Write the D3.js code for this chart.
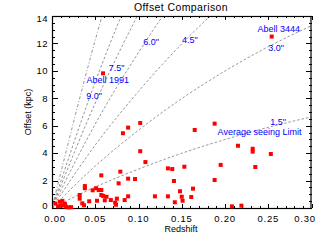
<!DOCTYPE html>
<html>
<head>
<meta charset="utf-8">
<script src="https://cdnjs.cloudflare.com/ajax/libs/d3/7.8.5/d3.min.js"></script>
<style>
	html, body { margin: 0; padding: 0; background: #fff; }
	svg { display: block; font-family: "Liberation Sans", Arial, Helvetica, sans-serif; }
</style>
</head>
<body>
<svg id="chart" width="327" height="241"></svg>
<script>
// cluster sample: redshift vs offset (kpc)
var redshift = [
	0.004, 0.007, 0.009, 0.010, 0.012, 0.013, 0.015, 0.016, 0.019, 0.022,
	0.102, 0.088, 0.082, 0.102, 0.108, 0.079, 0.057, 0.088, 0.096, 0.077,
	0.038, 0.038, 0.047, 0.051, 0.054, 0.057, 0.032, 0.032, 0.043, 0.052,
	0.057, 0.059, 0.061, 0.063, 0.068, 0.073, 0.074, 0.075, 0.084, 0.088,
	0.119, 0.134, 0.148, 0.150, 0.142, 0.151, 0.035, 0.037, 0.134, 0.139,
	0.153, 0.141, 0.163, 0.161, 0.165, 0.188, 0.215, 0.232, 0.232, 0.253,
	0.195, 0.235, 0.188, 0.208, 0.219
];
var offsetKpc = [
	0.32, 0.12, 0.46, 0.16, 0.52, 0.20, 0.30, 0.10, 0.05, 0.06,
	6.20, 5.86, 5.45, 4.14, 3.35, 2.65, 2.38, 2.14, 2.11, 1.80,
	1.60, 1.44, 1.29, 1.44, 1.31, 1.31, 0.95, 0.68, 0.49, 0.53,
	0.95, 0.88, 0.56, 0.82, 0.58, 0.39, 0.24, 0.68, 0.58, 0.85,
	0.85, 0.85, 1.22, 0.82, 0.42, 0.53, 0.34, 0.20, 2.89, 2.84,
	3.01, 1.97, 1.41, 0.80, 5.69, 6.15, 4.54, 4.32, 4.11, 3.94,
	3.14, 2.99, 2.04, 0.12, 0.17
];

// named clusters
var namedClusters = ['Abell 1991', 'Abell 3444'];
var namedRedshift = [0.059, 0.254];
var namedOffset = [9.82, 12.50];
var namedLabelZ = [0.0644, 0.2621];
var namedLabelOffset = [9.33, 13.07];

// constant angle lines: kpc per arcsec along redshift
var gridRedshift = [0, 0.05, 0.10, 0.15, 0.20, 0.25, 0.30];
var kpcPerArcsec = [0, 1.02, 1.89, 2.66, 3.33, 3.92, 4.43];
var angleArcsec = [1.5, 3.0, 4.5, 6.0, 7.5, 9.0, 12.0];
var angleLabels = ['1.5"', '3.0"', '4.5"', '6.0"', '7.5"', '9.0"', ''];
var angleLabelZ = [0.2613, 0.2590, 0.1595, 0.1145, 0.0746, 0.0486, 0];
var angleLabelOffset = [6.32, 11.67, 12.25, 12.10, 10.21, 8.17, 0];
var seeingText = 'Average seeing Limit';
var seeingTextZ = 0.2399;
var seeingTextOffset = 5.55;

// axes
var xTicks = [0, 0.05, 0.10, 0.15, 0.20, 0.25, 0.30];
var yTicks = [0, 2, 4, 6, 8, 10, 12, 14];

var svg = d3.select('#chart');
var plotLeft = 52, plotRight = 311.5, plotTop = 16, plotBottom = 208;

var x = d3.scaleLinear().domain([0, 0.30]).range([plotLeft, plotRight]);
var y = d3.scaleLinear().domain([0, 14]).range([plotBottom, plotTop]);

svg.append('defs').append('clipPath').attr('id', 'plotclip')
	.append('rect')
	.attr('x', plotLeft).attr('y', plotTop)
	.attr('width', plotRight - plotLeft).attr('height', plotBottom - plotTop);

// angle lines
var line = d3.line()
	.x(function(d) { return x(d[0]); })
	.y(function(d) { return y(d[1]); })
	.curve(d3.curveMonotoneX);

var lineLayer = svg.append('g').attr('clip-path', 'url(#plotclip)');
angleArcsec.forEach(function(a, k) {
	var pts = gridRedshift.map(function(z, i) {
		return [z, a * kpcPerArcsec[i]];
	});
	lineLayer.append('path')
		.attr('d', line(pts))
		.attr('fill', 'none')
		.attr('stroke', '#7a7a7a')
		.attr('stroke-width', 0.8)
		.attr('stroke-dasharray', a === 12.0 ? '3,2,1,2' : '2.5,2');
});

// ticks, IDL style (inside, on all four sides)
function minorRange(lo, hi, step) {
	return d3.range(Math.round((hi - lo) / step) + 1).map(function(i) { return lo + i * step; });
}
var xMinor = minorRange(0, 0.30, 0.01);
var yMinor = minorRange(0, 14, 0.5);

var tickLayer = svg.append('g')
	.attr('stroke', '#000').attr('stroke-width', 1).attr('shape-rendering', 'crispEdges');

xMinor.forEach(function(v, i) {
	var len = (i % 5 === 0) ? 4 : 2;
	var px = Math.round(x(v)) + 0.5;
	tickLayer.append('line').attr('x1', px).attr('x2', px).attr('y1', plotBottom).attr('y2', plotBottom - len);
	tickLayer.append('line').attr('x1', px).attr('x2', px).attr('y1', plotTop).attr('y2', plotTop + len);
});
yMinor.forEach(function(v, i) {
	var len = (i % 4 === 0) ? 5.5 : 2.8;
	var py = Math.round(y(v)) + 0.5;
	tickLayer.append('line').attr('x1', plotLeft).attr('x2', plotLeft + len).attr('y1', py).attr('y2', py);
	tickLayer.append('line').attr('x1', plotRight).attr('x2', plotRight - len).attr('y1', py).attr('y2', py);
});

// frame
svg.append('rect')
	.attr('x', plotLeft + 0.5).attr('y', plotTop + 0.5)
	.attr('width', plotRight - plotLeft - 1).attr('height', plotBottom - plotTop)
	.attr('fill', 'none').attr('stroke', '#000').attr('stroke-width', 1.2);

// tick labels
svg.append('g').selectAll('text').data(xTicks).join('text')
	.attr('x', function(d) { return Math.max(55, Math.min(305, x(d))); })
	.attr('y', 221.5)
	.attr('text-anchor', 'middle')
	.attr('font-size', 9.5)
	.attr('letter-spacing', 0.8)
	.text(function(d) { return d3.format('.2f')(d); });

svg.append('g').selectAll('text').data(yTicks).join('text')
	.attr('x', 48)
	.attr('y', function(d) { return Math.max(19, Math.min(205.5, y(d))) + 3.3; })
	.attr('text-anchor', 'end')
	.attr('font-size', 9.5)
	.attr('letter-spacing', 0.5)
	.text(function(d) { return d; });

// titles
svg.append('text')
	.attr('x', 181).attr('y', 11)
	.attr('text-anchor', 'middle')
	.attr('font-size', 10.5)
	.attr('letter-spacing', 0.4)
	.text('Offset Comparison');

svg.append('text')
	.attr('x', 181).attr('y', 232)
	.attr('text-anchor', 'middle')
	.attr('font-size', 9)
	.text('Redshift');

svg.append('text')
	.attr('transform', 'translate(31,112) rotate(-90)')
	.attr('text-anchor', 'middle')
	.attr('font-size', 9)
	.text('Offset (kpc)');

// data points
var pts = redshift.map(function(z, i) { return [z, offsetKpc[i]]; })
	.concat(namedRedshift.map(function(z, i) { return [z, namedOffset[i]]; }));

svg.append('g').selectAll('rect').data(pts).join('rect')
	.attr('x', function(d) { return x(d[0]) - 2; })
	.attr('y', function(d) { return y(d[1]) - 2; })
	.attr('width', 4).attr('height', 4)
	.attr('fill', '#ff0000');

// blue annotations
var labelLayer = svg.append('g')
	.attr('fill', '#0000ff')
	.attr('font-size', 9)
	.attr('text-anchor', 'middle');

angleLabels.forEach(function(t, i) {
	if (!t) return;
	labelLayer.append('text')
		.attr('x', x(angleLabelZ[i]))
		.attr('y', y(angleLabelOffset[i]) + 3.2)
		.text(t);
});
namedClusters.forEach(function(t, i) {
	labelLayer.append('text')
		.attr('x', x(namedLabelZ[i]))
		.attr('y', y(namedLabelOffset[i]) + 3.2)
		.text(t);
});
labelLayer.append('text')
	.attr('x', x(seeingTextZ))
	.attr('y', y(seeingTextOffset) + 3.2)
	.text(seeingText);
</script>
</body>
</html>
